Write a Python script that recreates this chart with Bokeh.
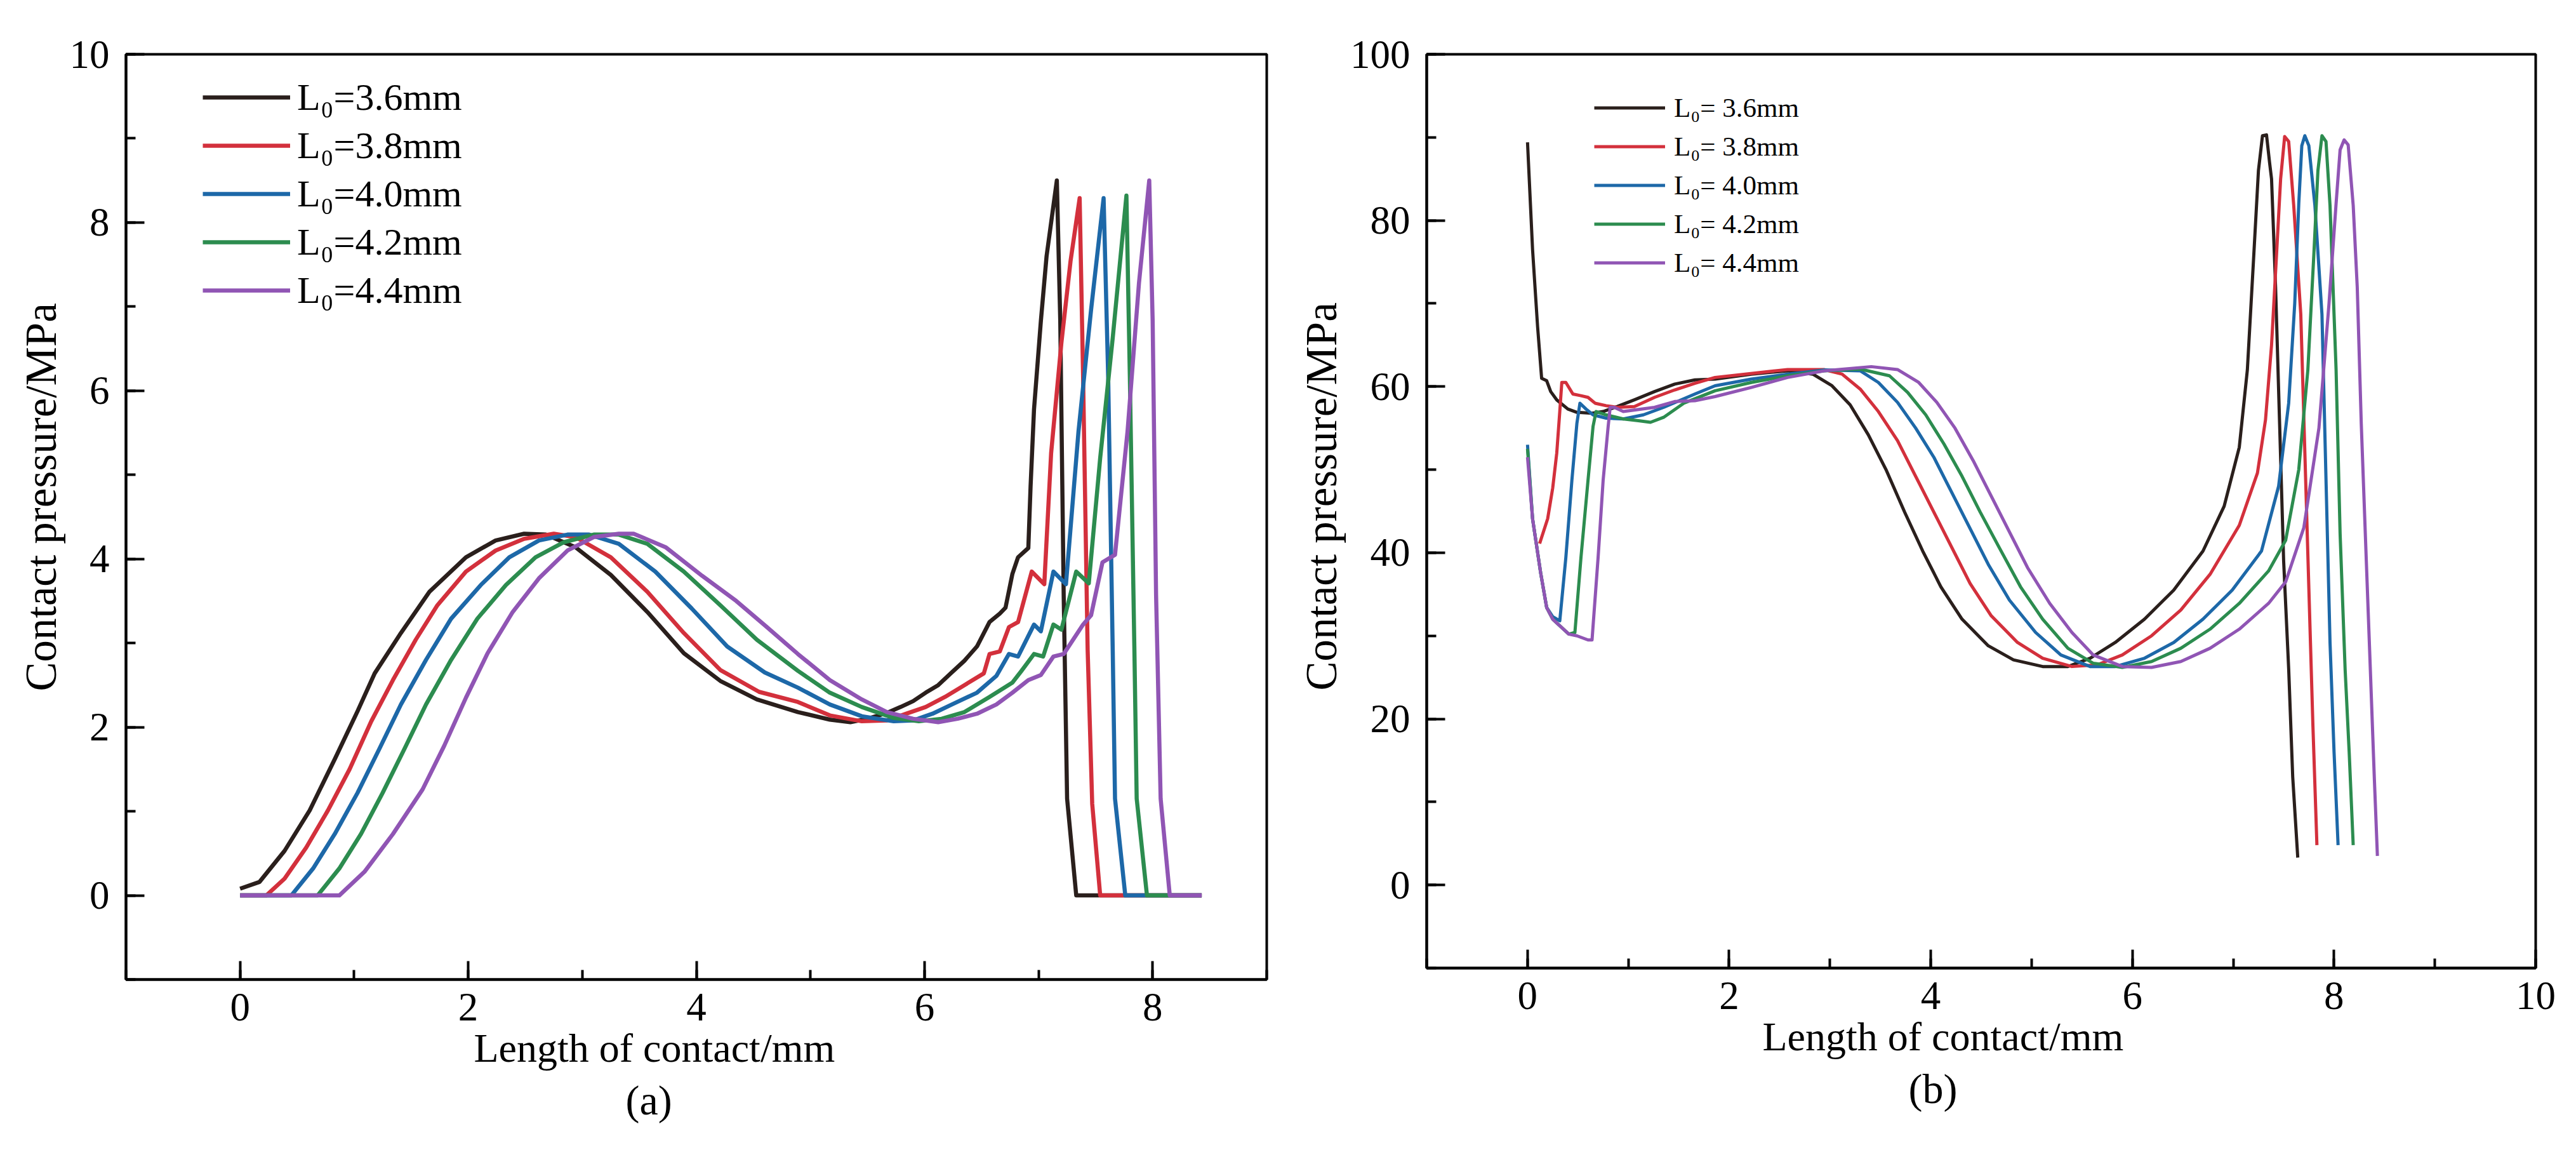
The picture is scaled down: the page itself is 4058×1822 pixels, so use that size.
from bokeh.plotting import figure
from bokeh.models import Range1d, SingleIntervalTicker, Legend, LegendItem, Title
from bokeh.layouts import row
from bokeh.embed import file_html
from bokeh.resources import INLINE

FONT = "Liberation Serif"
COLORS = ["#2a1f1c", "#d3303c", "#1d68a8", "#2c8c4f", "#9055b4"]
LABELS_A = ["L\u2080=3.6mm", "L\u2080=3.8mm", "L\u2080=4.0mm", "L\u2080=4.2mm", "L\u2080=4.4mm"]
LABELS_B = ["L\u2080= 3.6mm", "L\u2080= 3.8mm", "L\u2080= 4.0mm", "L\u2080= 4.2mm", "L\u2080= 4.4mm"]
X_LABEL = "Length of contact/mm"
Y_LABEL = "Contact pressure/MPa"

# ---------------- panel (a) ----------------
a_black_x = [0.00, 0.17, 0.39, 0.61, 0.83, 1.03, 1.18, 1.41, 1.66, 1.98, 2.24, 2.49, 2.68, 2.94, 3.25, 3.57, 3.89, 4.21, 4.53, 4.89, 5.17, 5.35, 5.50, 5.67, 5.79, 5.90, 6.01, 6.12, 6.23, 6.35, 6.46, 6.57, 6.66, 6.71, 6.77, 6.82, 6.91, 6.93, 6.96, 7.02, 7.07, 7.16, 7.19, 7.22, 7.25, 7.33, 8.43]
a_black_y = [0.08, 0.16, 0.53, 1.01, 1.62, 2.19, 2.64, 3.12, 3.61, 4.02, 4.22, 4.30, 4.29, 4.14, 3.81, 3.37, 2.88, 2.55, 2.33, 2.18, 2.09, 2.06, 2.10, 2.17, 2.24, 2.31, 2.41, 2.50, 2.64, 2.79, 2.96, 3.25, 3.35, 3.42, 3.82, 4.02, 4.13, 4.87, 5.78, 6.83, 7.60, 8.50, 6.83, 3.57, 1.15, 0.00, 0.00]

a_red_x = [0.00, 0.23, 0.39, 0.58, 0.77, 0.96, 1.15, 1.34, 1.54, 1.73, 1.98, 2.24, 2.49, 2.75, 2.94, 3.25, 3.57, 3.89, 4.21, 4.55, 4.89, 5.17, 5.45, 5.67, 5.84, 6.01, 6.18, 6.35, 6.52, 6.57, 6.66, 6.74, 6.82, 6.94, 7.05, 7.11, 7.20, 7.28, 7.36, 7.39, 7.43, 7.47, 7.54, 8.43]
a_red_y = [0.00, 0.00, 0.20, 0.57, 1.01, 1.50, 2.07, 2.56, 3.04, 3.45, 3.85, 4.10, 4.24, 4.30, 4.26, 4.02, 3.61, 3.12, 2.68, 2.42, 2.30, 2.14, 2.07, 2.08, 2.16, 2.24, 2.36, 2.50, 2.64, 2.87, 2.90, 3.19, 3.25, 3.85, 3.70, 5.26, 6.57, 7.54, 8.29, 6.18, 2.92, 1.09, 0.00, 0.00]

a_blue_x = [0.00, 0.45, 0.64, 0.83, 1.03, 1.22, 1.41, 1.63, 1.85, 2.11, 2.36, 2.62, 2.87, 3.06, 3.32, 3.64, 3.96, 4.27, 4.60, 4.89, 5.17, 5.45, 5.73, 5.90, 6.07, 6.24, 6.46, 6.63, 6.74, 6.82, 6.96, 7.02, 7.13, 7.24, 7.35, 7.46, 7.57, 7.61, 7.65, 7.67, 7.76, 8.43]
a_blue_y = [0.00, 0.00, 0.32, 0.73, 1.22, 1.74, 2.27, 2.80, 3.29, 3.69, 4.02, 4.22, 4.29, 4.29, 4.18, 3.85, 3.41, 2.96, 2.65, 2.47, 2.27, 2.13, 2.07, 2.08, 2.16, 2.27, 2.41, 2.61, 2.87, 2.84, 3.22, 3.14, 3.85, 3.70, 5.52, 6.96, 8.29, 6.17, 2.91, 1.15, 0.00, 0.00]

a_green_x = [0.00, 0.68, 0.87, 1.06, 1.25, 1.44, 1.63, 1.85, 2.08, 2.33, 2.59, 2.84, 3.10, 3.32, 3.57, 3.89, 4.21, 4.53, 4.89, 5.17, 5.45, 5.73, 5.95, 6.15, 6.35, 6.57, 6.77, 6.85, 6.96, 7.04, 7.13, 7.20, 7.33, 7.44, 7.54, 7.65, 7.77, 7.80, 7.84, 7.86, 7.95, 8.43]
a_green_y = [0.00, 0.00, 0.32, 0.73, 1.22, 1.74, 2.27, 2.80, 3.29, 3.69, 4.02, 4.20, 4.29, 4.29, 4.18, 3.85, 3.45, 3.04, 2.67, 2.41, 2.24, 2.11, 2.07, 2.10, 2.18, 2.36, 2.53, 2.67, 2.87, 2.84, 3.22, 3.16, 3.85, 3.71, 5.20, 6.63, 8.32, 6.17, 2.91, 1.15, 0.00, 0.00]

a_purple_x = [0.00, 0.87, 1.09, 1.34, 1.60, 1.79, 1.98, 2.17, 2.39, 2.62, 2.87, 3.10, 3.32, 3.45, 3.73, 4.05, 4.35, 4.61, 4.89, 5.17, 5.45, 5.67, 5.90, 6.12, 6.29, 6.46, 6.63, 6.77, 6.91, 7.02, 7.13, 7.22, 7.39, 7.46, 7.56, 7.67, 7.78, 7.88, 7.97, 8.00, 8.03, 8.07, 8.15, 8.43]
a_purple_y = [0.00, 0.00, 0.28, 0.73, 1.26, 1.78, 2.35, 2.88, 3.37, 3.77, 4.10, 4.26, 4.30, 4.30, 4.14, 3.80, 3.50, 3.20, 2.87, 2.56, 2.33, 2.18, 2.10, 2.06, 2.10, 2.16, 2.27, 2.41, 2.56, 2.62, 2.84, 2.87, 3.22, 3.33, 3.96, 4.05, 5.52, 7.28, 8.50, 6.83, 3.57, 1.15, 0.00, 0.00]

# ---------------- panel (b) ----------------
b_black_x = [0.00, 0.05, 0.10, 0.14, 0.19, 0.23, 0.29, 0.40, 0.49, 0.64, 0.75, 0.89, 1.06, 1.26, 1.46, 1.66, 1.86, 2.22, 2.58, 2.83, 3.02, 3.20, 3.38, 3.56, 3.74, 3.92, 4.10, 4.31, 4.57, 4.82, 5.11, 5.36, 5.58, 5.83, 6.12, 6.41, 6.70, 6.91, 7.06, 7.14, 7.20, 7.25, 7.29, 7.33, 7.36, 7.38, 7.42, 7.46, 7.50, 7.55, 7.59, 7.64]
b_black_y = [89.4, 76.5, 67.2, 61.0, 60.7, 59.4, 58.4, 57.3, 56.9, 56.8, 57.0, 57.6, 58.4, 59.4, 60.3, 60.8, 60.9, 61.5, 61.9, 61.5, 60.1, 57.8, 54.2, 49.9, 44.9, 40.2, 35.9, 32.0, 28.8, 27.1, 26.3, 26.3, 27.3, 29.2, 32.0, 35.5, 40.2, 45.6, 52.7, 62.0, 75.0, 86.0, 90.2, 90.3, 87.0, 85.0, 72.0, 55.5, 39.0, 26.0, 13.0, 3.3]

b_red_x = [0.12, 0.20, 0.25, 0.29, 0.32, 0.34, 0.38, 0.45, 0.53, 0.60, 0.67, 0.78, 0.89, 1.06, 1.26, 1.46, 1.66, 1.86, 2.58, 2.94, 3.12, 3.30, 3.48, 3.67, 3.85, 4.03, 4.21, 4.39, 4.60, 4.86, 5.11, 5.40, 5.65, 5.90, 6.19, 6.48, 6.77, 7.06, 7.24, 7.32, 7.38, 7.43, 7.47, 7.51, 7.55, 7.60, 7.67, 7.71, 7.75, 7.79, 7.83]
b_red_y = [41.1, 44.1, 47.8, 52.0, 57.0, 60.5, 60.5, 59.1, 58.9, 58.7, 58.0, 57.7, 57.5, 57.6, 58.7, 59.6, 60.4, 61.1, 62.05, 62.05, 61.5, 59.7, 57.0, 53.5, 49.2, 44.9, 40.6, 36.3, 32.4, 29.2, 27.3, 26.3, 26.5, 27.7, 30.0, 33.1, 37.4, 43.3, 49.6, 56.0, 65.0, 76.0, 85.0, 90.1, 89.5, 81.8, 68.7, 52.2, 35.7, 19.3, 4.8]

b_blue_x = [0.00, 0.05, 0.13, 0.19, 0.25, 0.32, 0.38, 0.44, 0.49, 0.52, 0.58, 0.65, 0.78, 0.95, 1.15, 1.35, 1.66, 1.86, 2.22, 2.58, 2.94, 3.30, 3.48, 3.67, 3.85, 4.03, 4.21, 4.39, 4.57, 4.78, 5.04, 5.29, 5.58, 5.83, 6.12, 6.41, 6.70, 6.99, 7.28, 7.45, 7.55, 7.61, 7.65, 7.68, 7.71, 7.75, 7.81, 7.88, 7.92, 7.96, 8.00, 8.04]
b_blue_y = [53.0, 44.1, 37.6, 33.4, 32.3, 31.8, 39.4, 48.7, 55.6, 58.0, 57.3, 56.6, 56.2, 56.1, 56.6, 57.5, 59.1, 60.1, 60.9, 61.5, 62.0, 61.9, 60.5, 58.1, 55.0, 51.5, 47.2, 42.9, 38.6, 34.3, 30.4, 27.7, 26.3, 26.3, 27.3, 29.2, 32.0, 35.5, 40.2, 48.0, 58.0, 70.0, 82.0, 89.0, 90.2, 89.0, 81.8, 68.7, 48.9, 29.2, 16.0, 4.8]

b_green_x = [0.00, 0.05, 0.13, 0.19, 0.25, 0.33, 0.41, 0.47, 0.53, 0.60, 0.65, 0.68, 0.78, 0.95, 1.10, 1.22, 1.35, 1.55, 1.86, 2.22, 2.58, 2.94, 3.30, 3.59, 3.77, 3.95, 4.13, 4.31, 4.49, 4.68, 4.89, 5.11, 5.36, 5.61, 5.90, 6.19, 6.48, 6.77, 7.06, 7.35, 7.52, 7.65, 7.74, 7.80, 7.84, 7.88, 7.92, 7.96, 8.02, 8.06, 8.11, 8.15, 8.19]
b_green_y = [52.5, 44.1, 37.6, 33.4, 32.0, 31.1, 30.2, 30.4, 39.4, 48.7, 55.2, 57.0, 56.6, 56.1, 55.9, 55.7, 56.3, 58.0, 59.5, 60.5, 61.3, 61.9, 62.1, 61.3, 59.3, 56.6, 53.1, 49.2, 44.9, 40.6, 35.9, 32.0, 28.5, 26.7, 26.2, 26.9, 28.5, 30.8, 33.9, 37.8, 41.5, 50.0, 62.0, 76.0, 86.0, 90.2, 89.5, 81.8, 62.1, 42.3, 25.9, 16.0, 4.8]

b_purple_x = [0.00, 0.05, 0.13, 0.19, 0.25, 0.33, 0.41, 0.49, 0.60, 0.64, 0.70, 0.75, 0.80, 0.82, 0.86, 0.95, 1.26, 1.46, 1.66, 1.86, 2.22, 2.58, 2.94, 3.41, 3.67, 3.88, 4.06, 4.24, 4.42, 4.60, 4.78, 4.96, 5.18, 5.40, 5.61, 5.90, 6.19, 6.48, 6.77, 7.06, 7.35, 7.52, 7.70, 7.85, 7.95, 8.02, 8.06, 8.10, 8.14, 8.19, 8.23, 8.27, 8.32, 8.36, 8.40, 8.43]
b_purple_y = [51.5, 44.1, 37.6, 33.4, 32.0, 31.1, 30.2, 30.0, 29.5, 29.5, 39.4, 48.7, 55.2, 57.5, 57.5, 57.0, 57.5, 58.2, 58.3, 58.8, 59.9, 61.1, 61.9, 62.4, 62.05, 60.5, 58.1, 55.0, 51.1, 46.8, 42.5, 38.2, 33.9, 30.4, 27.7, 26.3, 26.2, 26.9, 28.5, 30.8, 33.9, 36.5, 43.0, 55.0, 70.0, 82.0, 88.5, 89.7, 89.1, 81.8, 72.0, 55.5, 39.0, 25.9, 12.7, 3.5]

A_SERIES = [(a_black_x, a_black_y), (a_red_x, a_red_y), (a_blue_x, a_blue_y), (a_green_x, a_green_y), (a_purple_x, a_purple_y)]
B_SERIES = [(b_black_x, b_black_y), (b_red_x, b_red_y), (b_blue_x, b_blue_y), (b_green_x, b_green_y), (b_purple_x, b_purple_y)]


def style_axes(p, xint, yint):
    p.xaxis.ticker = SingleIntervalTicker(interval=xint, num_minor_ticks=2)
    p.yaxis.ticker = SingleIntervalTicker(interval=yint, num_minor_ticks=2)
    for ax in (p.xaxis[0], p.yaxis[0]):
        ax.axis_line_width = 4
        ax.axis_line_color = "black"
        ax.major_tick_in = 29
        ax.major_tick_out = 0
        ax.minor_tick_in = 15
        ax.minor_tick_out = 0
        ax.major_tick_line_width = 4
        ax.minor_tick_line_width = 4
        ax.major_tick_line_color = "black"
        ax.minor_tick_line_color = "black"
        ax.major_label_text_font = FONT
        ax.major_label_text_font_size = "63px"
        ax.major_label_text_color = "black"
    p.xaxis.major_label_standoff = 22
    p.yaxis.major_label_standoff = 26
    p.grid.visible = False
    p.outline_line_color = "black"
    p.outline_line_width = 4
    p.outline_line_alpha = 1
    p.title.text_font = FONT
    p.title.text_font_size = "66px"
    p.title.text_font_style = "normal"
    p.title.text_color = "black"


def make_panel(title, title_off, xlab_off, ylab_off, xr, yr, fw, fh, bl, br, bt, bb,
               series, lw, labels, loc, gw, row_h, standoff, fsize, xint, yint):
    p = figure(title=title, title_location="below",
               x_range=Range1d(*xr), y_range=Range1d(*yr),
               frame_width=fw, frame_height=fh,
               min_border_left=bl, min_border_right=br,
               min_border_top=bt, min_border_bottom=bb,
               toolbar_location=None, output_backend="svg",
               background_fill_color="white", border_fill_color="white")
    style_axes(p, xint, yint)
    p.title.align = "left"
    p.title.offset = title_off
    xlab = Title(text=X_LABEL, align="left", offset=xlab_off, text_font=FONT,
                 text_font_size="64px", text_font_style="normal",
                 text_color="black", standoff=6)
    p.add_layout(xlab, "below")
    ylab = Title(text=Y_LABEL, align="left", offset=ylab_off, text_font=FONT,
                 text_font_size="69px", text_font_style="normal",
                 text_color="black", standoff=8)
    p.add_layout(ylab, "left")
    items = []
    for (xs, ys), c, lab in zip(series, COLORS, labels):
        r = p.line(xs, ys, line_color=c, line_width=lw, line_join="round")
        items.append(LegendItem(label=lab, renderers=[r]))
    leg = Legend(items=items, location=loc, glyph_width=gw, glyph_height=row_h,
                 label_height=row_h, label_standoff=standoff, spacing=0,
                 padding=0, margin=0, border_line_alpha=0,
                 background_fill_alpha=0, label_text_font=FONT,
                 label_text_font_size=fsize, label_text_color="black")
    p.add_layout(leg)
    return p


pa = make_panel("(a)", 787, 548, 454, (-1, 9), (-1, 10), 1797, 1457, 198, 35, 72, 293,
                A_SERIES, 6.5, LABELS_A, (121, 1047), 138, 76, 11, "60px", 2, 2)
pb = make_panel("(b)", 759, 529, 437, (-1, 10), (-10, 100), 1747, 1439, 217, 64, 85, 298,
                B_SERIES, 5.0, LABELS_B, (264, 1080), 112, 61, 14, "43px", 2, 20)

layout = row(pa, pb)
open("out.html", "w").write(file_html(layout, INLINE))
